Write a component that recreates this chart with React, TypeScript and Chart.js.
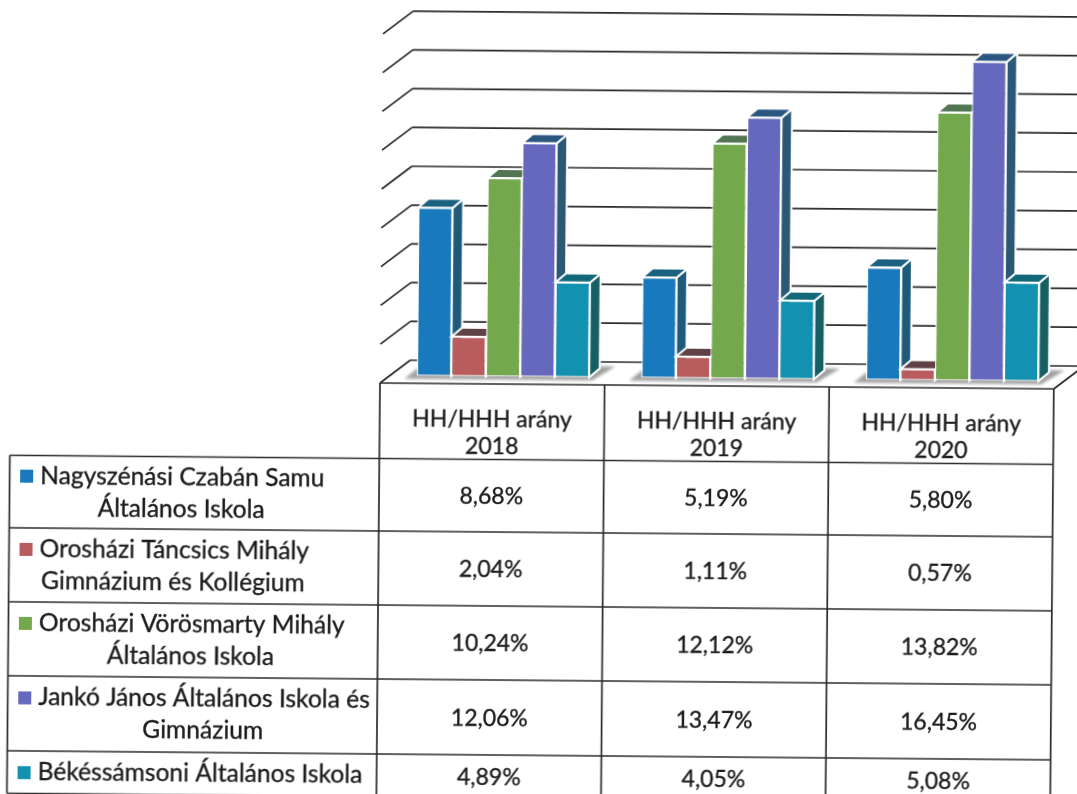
import React, { useEffect, useRef } from "react";
import { Chart, registerables } from "chart.js";

Chart.register(...registerables);

const years = ["2018", "2019", "2020"];
const headerTitle = "HH/HHH arány";
const nagyszenasi = [8.68, 5.19, 5.8];
const tancsics = [2.04, 1.11, 0.57];
const vorosmarty = [10.24, 12.12, 13.82];
const janko = [12.06, 13.47, 16.45];
const bekessamsoni = [4.89, 4.05, 5.08];
const seriesLabels = [
  ["Nagyszénási Czabán Samu", "Általános Iskola"],
  ["Orosházi Táncsics Mihály", "Gimnázium és Kollégium"],
  ["Orosházi Vörösmarty Mihály", "Általános Iskola"],
  ["Jankó János Általános Iskola és", "Gimnázium"],
  ["Békéssámsoni Általános Iskola"],
];
const seriesValues = [nagyszenasi, tancsics, vorosmarty, janko, bekessamsoni];

const frontColors = ["#1879bd", "#b95c5e", "#74a84c", "#6668bd", "#1291b0"];
const sideColors = ["#1f5b78", "#5a404a", "#47694a", "#2a5875", "#165f63"];
const topColors = ["#1c6280", "#604246", "#527552", "#2a5680", "#126879"];

const W = 1120;
const H = 830;
const LABEL_FONT = '24.6px Lato, "Open Sans", sans-serif';
const VALUE_FONT = '23px Lato, "Open Sans", sans-serif';
const INK = "#1c1c1c";
const LINE = "#2b2b2b";
const tableLeft = 380;
const colW = 224.6;
const tableTop = 383;
const rowYs = [458.5, 531, 605, 679, 754, 796.5];
const legendLeft = 10.5;
const wallDx = 30;
const wallDy = -23;
const floorDy = 7.4;
const barDx = 10.5;
const barDy = -9;

function poly(ctx: CanvasRenderingContext2D, pts: number[][], fill: string) {
  ctx.beginPath();
  pts.forEach((p, i) => (i ? ctx.lineTo(p[0], p[1]) : ctx.moveTo(p[0], p[1])));
  ctx.closePath();
  ctx.fillStyle = fill;
  ctx.fill();
  ctx.strokeStyle = "#ffffff";
  ctx.lineWidth = 2;
  ctx.stroke();
}

function segment(ctx: CanvasRenderingContext2D, x1: number, y1: number, x2: number, y2: number) {
  ctx.beginPath();
  ctx.moveTo(x1, y1);
  ctx.lineTo(x2, y2);
  ctx.stroke();
}

function inkText(ctx: CanvasRenderingContext2D, text: string, x: number, y: number) {
  ctx.fillText(text, x, y);
  ctx.strokeText(text, x, y);
}

const wallPlugin = {
  id: "wall",
  beforeDatasetsDraw(chart: any) {
    const ctx = chart.ctx as CanvasRenderingContext2D;
    const y = chart.scales.y;
    const right = tableLeft + colW * 3;
    ctx.save();
    ctx.strokeStyle = LINE;
    ctx.lineWidth = 1.7;
    y.ticks.forEach((t: any) => {
      const py = y.getPixelForValue(t.value) + floorDy;
      segment(ctx, tableLeft, py, tableLeft + wallDx, py + wallDy);
      segment(ctx, tableLeft + wallDx, py + wallDy, right + wallDx, py + wallDy);
    });
    const fy = y.getPixelForValue(0) + floorDy;
    segment(ctx, right, fy, right + wallDx, fy + wallDy);
    // soft shadow on the floor below each group of bars
    const first = chart.getDatasetMeta(0).data;
    const last = chart.getDatasetMeta(4).data;
    ctx.filter = "blur(1.5px)";
    first.forEach((el: any, i: number) => {
      const l = el.x - el.width / 2;
      const r = last[i].x + last[i].width / 2;
      const b = el.base;
      ctx.beginPath();
      ctx.moveTo(l - 12, b + 3);
      ctx.lineTo(r + 3, b + 3);
      ctx.lineTo(r + 26, b - 11);
      ctx.lineTo(r + 10, b - 11);
      ctx.lineTo(l, b - 7);
      ctx.closePath();
      ctx.fillStyle = "rgba(130,130,130,0.75)";
      ctx.fill();
    });
    ctx.restore();
  },
  // the bars are painted left to right below, so each front covers the side of its neighbour
  beforeDatasetDraw() {
    return false;
  },
  afterDatasetsDraw(chart: any) {
    const ctx = chart.ctx as CanvasRenderingContext2D;
    seriesValues.forEach((_, i) => {
      chart.getDatasetMeta(i).data.forEach((el: any) => {
        const l = el.x - el.width / 2;
        const r = el.x + el.width / 2;
        const t = el.y;
        const b = el.base;
        ctx.save();
        poly(ctx, [[r, t], [r + barDx, t + barDy], [r + barDx, b + barDy], [r, b]], sideColors[i]);
        poly(ctx, [[l, t], [l + barDx, t + barDy], [r + barDx, t + barDy], [r, t]], topColors[i]);
        ctx.restore();
        el.draw(ctx);
      });
    });
  },
};

const tablePlugin = {
  id: "dataTable",
  afterDraw(chart: any) {
    const ctx = chart.ctx as CanvasRenderingContext2D;
    const right = tableLeft + colW * 3;
    const bottom = rowYs[rowYs.length - 1];
    ctx.save();
    ctx.strokeStyle = LINE;
    ctx.lineWidth = 1.7;
    segment(ctx, tableLeft, tableTop, right, tableTop);
    for (let c = 0; c <= 3; c++) {
      segment(ctx, tableLeft + colW * c, tableTop, tableLeft + colW * c, bottom);
    }
    rowYs.forEach((ry) => segment(ctx, legendLeft, ry, right, ry));
    segment(ctx, legendLeft, rowYs[0], legendLeft, bottom);

    ctx.font = VALUE_FONT;
    ctx.fillStyle = INK;
    ctx.strokeStyle = INK;
    ctx.lineWidth = 0.35;
    ctx.textBaseline = "middle";
    ctx.textAlign = "center";
    years.forEach((yr, c) => {
      const cx = tableLeft + colW * (c + 0.5);
      inkText(ctx, headerTitle, cx, 418.5);
      inkText(ctx, yr, cx, 446);
    });
    seriesValues.forEach((vals, r) => {
      const mid = (rowYs[r] + rowYs[r + 1]) / 2 + 1;
      vals.forEach((v, c) => {
        const cx = tableLeft + colW * (c + 0.5);
        inkText(ctx, v.toFixed(2).replace(".", ",") + "%", cx, mid);
      });
    });
    ctx.font = LABEL_FONT;
    seriesLabels.forEach((lines, r) => {
      const mid = (rowYs[r] + rowYs[r + 1]) / 2;
      const swatchX = 21;
      const textX = 41;
      const y1 = lines.length > 1 ? mid - 16 : mid;
      ctx.fillStyle = frontColors[r];
      ctx.fillRect(swatchX, y1 - 6, 13, 13);
      ctx.fillStyle = INK;
      ctx.textAlign = "left";
      inkText(ctx, lines[0], textX, y1);
      if (lines[1]) {
        const end = textX + ctx.measureText(lines[0]).width;
        ctx.textAlign = "center";
        inkText(ctx, lines[1], (swatchX + end) / 2 + 9, mid + 16);
      }
    });
    ctx.restore();
  },
};

export default function App() {
  const ref = useRef<HTMLCanvasElement>(null);
  useEffect(() => {
    if (!ref.current) return;
    const chart = new Chart(ref.current, {
      type: "bar",
      data: {
        labels: years,
        datasets: seriesValues.map((data, i) => ({
          label: seriesLabels[i].join(" "),
          data,
          backgroundColor: frontColors[i],
          borderColor: "#ffffff",
          borderWidth: 1.3,
          borderSkipped: false,
        })),
      },
      options: {
        animation: false,
        responsive: false,
        devicePixelRatio: 1,
        layout: {
          padding: { left: 390.6, right: W - 1064.4, top: 26.4, bottom: H - 375.6 },
        },
        plugins: { legend: { display: false }, tooltip: { enabled: false } },
        scales: {
          x: { display: false },
          y: {
            display: false,
            min: 0,
            max: 18,
            ticks: { stepSize: 2 },
          },
        },
        datasets: { bar: { categoryPercentage: 0.768, barPercentage: 1 } },
      } as any,
      plugins: [wallPlugin, tablePlugin],
    });
    return () => chart.destroy();
  }, []);
  return (
    <div style={{ position: "fixed", inset: 0, overflow: "hidden", background: "#ffffff" }}>
      <canvas
        ref={ref}
        width={W}
        height={H}
        style={{
          position: "absolute",
          left: 0,
          top: 0,
          width: W,
          height: H,
          transform: "rotate(0.5deg)",
          transformOrigin: "380px 383px",
        }}
      />
    </div>
  );
}
